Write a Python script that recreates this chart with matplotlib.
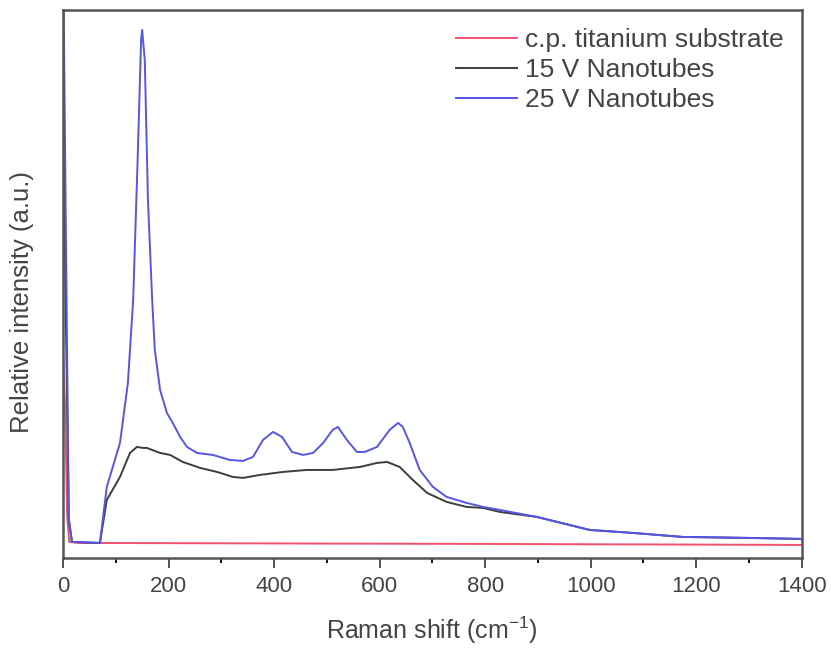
import matplotlib
matplotlib.use("Agg")
import matplotlib.pyplot as plt
from matplotlib.ticker import MultipleLocator

plt.rcParams['font.family'] = ['Liberation Sans', 'DejaVu Sans']
plt.rcParams['mathtext.fontset'] = 'custom'
plt.rcParams['mathtext.rm'] = 'Liberation Sans'
plt.rcParams['mathtext.it'] = 'Liberation Sans'
plt.rcParams['mathtext.default'] = 'regular'

# Raman shift (cm^-1) and relative intensity (a.u.)
x_25v = [0, 6, 11, 17, 70, 83, 108, 123, 133, 142, 148, 150, 155, 161, 169, 174, 184, 197, 208,
         222, 235, 254, 284, 316, 341, 360, 379, 398, 415, 434, 455, 474, 493, 511, 521, 538,
         557, 572, 595, 619, 635, 644, 657, 676, 701, 727, 765, 796, 828, 898, 998, 1080,
         1174, 1300, 1400]
y_25v = [620, 300, 40, 16, 15, 71, 115, 175, 258, 408, 518, 528, 498, 358, 258, 208, 168, 145, 135,
         121, 111, 105, 103, 98, 97, 101, 118, 126, 121, 106, 103, 105, 115, 128, 131, 118,
         106, 106, 111, 128, 135, 131, 115, 88, 71, 61, 55, 51, 48, 41, 28, 25,
         21, 20, 19]

x_15v = [0, 6, 11, 17, 70, 83, 108, 127, 140, 152, 159, 184, 203, 227, 260, 292, 322, 341, 373,
         417, 462, 511, 563, 595, 614, 638, 663, 690, 727, 765, 796, 828, 898, 998, 1080,
         1174, 1300, 1400]
y_15v = [450, 220, 38, 16, 15, 58, 81, 105, 111, 110, 110, 105, 103, 96, 90, 86, 81, 80, 83,
         86, 88, 88, 91, 95, 96, 91, 78, 65, 56, 51, 50, 46, 41, 28, 25,
         21, 20, 19]

x_ti = [0, 4, 8, 12, 30, 400, 800, 1400]
y_ti = [205, 150, 40, 16, 15, 14.5, 14, 13]

labels = ['c.p. titanium substrate', '15 V Nanotubes', '25 V Nanotubes']
colors = ['#f2506e', '#3a3f38', '#5555e8']

fig = plt.figure(figsize=(8.31, 6.48), dpi=100)
ax = fig.add_axes([0.0758, 0.139, 0.889, 0.8456])

ax.plot(x_ti, y_ti, color=colors[0], lw=1.4, label=labels[0])
ax.plot(x_15v, y_15v, color=colors[1], lw=1.4, label=labels[1])
ax.plot(x_25v, y_25v, color=colors[2], lw=1.4, label=labels[2])

ax.set_xlim(0, 1400)
ax.set_ylim(0, 548)
ax.xaxis.set_major_locator(MultipleLocator(200))
ax.xaxis.set_minor_locator(MultipleLocator(100))
ax.set_yticks([])
ax.tick_params(axis='x', which='major', direction='out', length=7, width=1.3,
               labelsize=16, colors='#444444', labelcolor='#444444', pad=6, top=False)
ax.tick_params(axis='x', which='minor', direction='out', length=3.5, width=1.3, top=False)
for s in ax.spines.values():
    s.set_color('#555555')
    s.set_linewidth(1.8)

ax.set_xlabel('Raman shift (cm$^{-1}$)', fontsize=18, color='#444444', labelpad=13)
ax.set_ylabel('Relative intensity (a.u.)', fontsize=18.5, color='#444444')
ax.yaxis.set_label_coords(-0.039, 0.467)

leg = ax.legend(loc='upper right', frameon=False, fontsize=19, handlelength=2.3,
                handletextpad=0.3, labelspacing=0.22, borderaxespad=0.3)
for t in leg.get_texts():
    t.set_color('#444444')

fig.savefig('out.png', dpi=100)
